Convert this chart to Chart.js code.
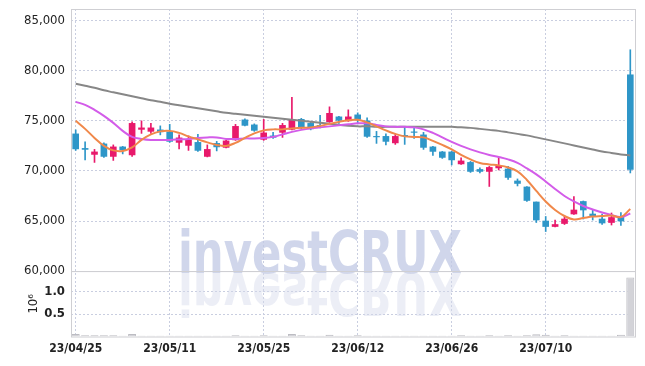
<!DOCTYPE html>
<html>
<head>
<meta charset="utf-8">
<script src="https://cdn.jsdelivr.net/npm/chart.js@4.4.0/dist/chart.umd.min.js"></script>
<style>
  html, body { margin: 0; padding: 0; background: #fff; }
</style>
</head>
<body>
<canvas id="chart" width="645" height="366"></canvas>
<script>
const dates = [
  "23/04/25","23/04/26","23/04/27","23/04/28","23/05/02","23/05/03","23/05/04","23/05/08","23/05/09","23/05/10",
  "23/05/11","23/05/12","23/05/15","23/05/16","23/05/17","23/05/18","23/05/19","23/05/22","23/05/23","23/05/24",
  "23/05/25","23/05/26","23/05/30","23/05/31","23/06/01","23/06/02","23/06/05","23/06/07","23/06/08","23/06/09",
  "23/06/12","23/06/13","23/06/14","23/06/15","23/06/16","23/06/19","23/06/20","23/06/21","23/06/22","23/06/23",
  "23/06/26","23/06/27","23/06/28","23/06/29","23/06/30","23/07/03","23/07/04","23/07/05","23/07/06","23/07/07",
  "23/07/10","23/07/11","23/07/12","23/07/13","23/07/14","23/07/17","23/07/18","23/07/19","23/07/20","23/07/21"
];

const opens = [
  73700,72250,71650,72700,71450,72400,71600,74150,73950,74100,
  73900,72850,72550,72850,71450,72750,72350,73100,75100,74600,
  73150,73500,73850,74150,75150,74750,74550,74900,75400,75000,
  75600,75000,73450,73450,72800,73550,73900,73600,72400,71900,
  71900,70700,70850,70150,69950,70300,70200,69000,68400,66900,
  65000,64450,64750,65700,66950,65700,65200,64850,65450,79600
];
const highs = [
  74100,72900,72150,72800,72600,72450,74900,75000,74750,74500,
  74650,73600,73500,73650,72600,72950,73050,74650,75200,74700,
  75150,73850,74750,77350,75250,74850,75550,76400,75450,76100,
  75800,75300,73950,73700,73650,74450,74450,73850,72450,71950,
  71950,71300,70950,70300,70450,71400,70450,69200,68450,66900,
  65450,65100,65450,67450,67000,66100,65700,65800,65850,82100
];
const lows = [
  72050,71100,70850,71350,71050,71700,71450,73750,73750,73600,
  72850,72200,72050,71950,71400,72000,72300,73050,74500,73950,
  73050,73250,73350,74100,74200,74100,74300,74850,74750,74950,
  74700,73350,72750,72600,72650,72650,73250,72150,71550,71250,
  70600,70650,69850,69800,68450,70100,69150,68500,66950,64850,
  63950,64400,64650,65650,65200,65100,64650,64600,64550,69800
];
const closes = [
  72200,72150,71900,71450,72400,72100,74750,74300,74300,73900,
  72950,73300,73100,72050,72150,72400,73000,74450,74550,74050,
  73800,73350,74550,75150,74350,74200,74500,75750,75050,75400,
  75150,73450,73400,72950,73450,73500,73850,72350,71950,71350,
  71100,71000,69950,69950,70350,70550,69350,68750,67050,65100,
  64450,64650,65200,66100,66100,65450,64800,65350,65000,70150
];

// moving average lines
const maShort = [
  75000,74200,73300,72500,72050,72000,72350,73100,73650,73950,
  74000,73800,73450,73150,72850,72600,72500,72800,73300,73750,
  74050,74150,74150,74250,74300,74350,74500,74700,74900,75050,
  75100,74850,74450,74050,73700,73450,73400,73350,73000,72600,
  72150,71600,71150,70800,70650,70550,70350,69950,69100,68000,
  66950,66100,65500,65150,65300,65450,65500,65550,65400,66200
];
const maMid = [
  76900,76600,76100,75500,74800,74000,73400,73200,73100,73100,
  73100,73150,73200,73300,73350,73350,73200,73200,73250,73250,
  73300,73400,73650,73900,74100,74250,74350,74450,74550,74650,
  74750,74750,74600,74450,74400,74400,74350,74150,73800,73350,
  72900,72500,72150,71850,71600,71400,71150,70800,70250,69650,
  68950,68200,67500,66950,66500,66150,65850,65600,65400,65750
];
const maLong = [
  78700,78500,78300,78050,77850,77650,77450,77250,77050,76900,
  76700,76550,76400,76250,76100,75950,75800,75700,75600,75500,
  75400,75300,75200,75100,75000,74900,74800,74700,74600,74500,
  74450,74450,74400,74400,74400,74400,74400,74400,74400,74400,
  74400,74350,74300,74200,74100,74000,73850,73700,73550,73350,
  73150,72950,72750,72550,72350,72150,71950,71800,71650,71550
];

// volume in millions
const volumes = [
  0.06,0.03,0.03,0.03,0.03,0.02,0.06,0.02,0.02,0.02,
  0.02,0.02,0.02,0.02,0.02,0.02,0.02,0.03,0.02,0.02,
  0.03,0.02,0.02,0.06,0.03,0.02,0.02,0.04,0.02,0.02,
  0.03,0.02,0.02,0.02,0.02,0.02,0.02,0.02,0.02,0.02,
  0.02,0.03,0.02,0.02,0.03,0.02,0.03,0.02,0.03,0.05,
  0.04,0.02,0.03,0.02,0.02,0.02,0.02,0.02,0.04,1.31
];

const priceTicks = [60000, 65000, 70000, 75000, 80000, 85000];
const volTicks = [0.5, 1.0];

const upColor = "#e8196b";
const downColor = "#2e96c8";
const candleColors = opens.map((o, i) => closes[i] >= o ? upColor : downColor);

const gridColor = "#c9cee0";
const frameColor = "#cfcfd3";
const fontFamily = "'DejaVu Sans Condensed', 'Liberation Sans', sans-serif";

// watermark with reflection, behind the marks
const watermark = {
  id: "watermark",
  beforeDatasetsDraw(chart) {
    const ctx = chart.ctx;
    const text = "investCRUX";
    const baseline = 273;
    ctx.save();
    ctx.font = "bold 58px 'DejaVu Sans Condensed', 'DejaVu Sans', sans-serif";
    ctx.textBaseline = "alphabetic";
    ctx.textAlign = "left";
    const w = ctx.measureText(text).width;
    const sx = 284 / w;
    ctx.translate(178, baseline);
    ctx.scale(sx, 1);
    ctx.fillStyle = "rgba(192,200,228,0.75)";
    ctx.fillText(text, 0, 0);
    ctx.scale(1, -1);
    ctx.fillStyle = "rgba(212,217,236,0.45)";
    ctx.fillText(text, 0, 0);
    ctx.restore();
  }
};

// frames round the two panels
const frames = {
  id: "frames",
  afterDraw(chart) {
    const ctx = chart.ctx;
    const { left, right } = chart.chartArea;
    const y = chart.scales.y, yv = chart.scales.yv;
    ctx.save();
    ctx.strokeStyle = frameColor;
    ctx.lineWidth = 1;
    ctx.strokeRect(left + 0.5, Math.round(y.top) + 0.5, right - left, y.bottom - y.top);
    ctx.strokeRect(left + 0.5, Math.round(yv.top) + 0.5, right - left, yv.bottom - yv.top);
    ctx.restore();
  }
};

const fitLeft = axis => {
  axis.width = 71;
  axis.paddingTop = 0;
  axis.paddingBottom = 0;
};

const ctx = document.getElementById("chart").getContext("2d");

new Chart(ctx, {
  type: "bar",
  data: {
    labels: dates,
    datasets: [
      {
        type: "line",
        label: "MA5",
        data: maShort,
        yAxisID: "y",
        borderColor: "#f0884a",
        borderWidth: 2,
        pointRadius: 0,
        tension: 0.4,
        order: 1
      },
      {
        type: "line",
        label: "MA20",
        data: maMid,
        yAxisID: "y",
        borderColor: "#d35ce9",
        borderWidth: 2,
        pointRadius: 0,
        tension: 0.4,
        order: 2
      },
      {
        type: "line",
        label: "MA120",
        data: maLong,
        yAxisID: "y",
        borderColor: "#878787",
        borderWidth: 2,
        pointRadius: 0,
        tension: 0.4,
        order: 3
      },
      {
        label: "body",
        data: opens.map((o, i) => [o, closes[i]]),
        yAxisID: "y",
        backgroundColor: candleColors,
        barThickness: 6,
        grouped: false,
        order: 4
      },
      {
        label: "wick",
        data: lows.map((l, i) => [l, highs[i]]),
        yAxisID: "y",
        backgroundColor: candleColors,
        barThickness: 1,
        grouped: false,
        order: 5
      },
      {
        label: "volume",
        data: volumes,
        yAxisID: "yv",
        backgroundColor: "#d3d3d8",
        borderColor: "#bcbcc2",
        borderWidth: { top: 1, left: 1, right: 1, bottom: 0 },
        barPercentage: 0.85,
        categoryPercentage: 1,
        grouped: false,
        order: 6
      }
    ]
  },
  options: {
    responsive: false,
    animation: false,
    layout: { padding: { top: 9, right: 10, left: 0, bottom: 5 } },
    plugins: {
      legend: { display: false },
      tooltip: { enabled: false }
    },
    scales: {
      x: {
        offset: true,
        grid: {
          offset: false,
          drawTicks: false,
          color: c => (c.index % 10 === 0 ? gridColor : "transparent")
        },
        border: { display: false, dash: [2, 2] },
        ticks: {
          autoSkip: false,
          maxRotation: 0,
          padding: 5,
          color: "#222",
          font: { family: fontFamily, size: 12, weight: "bold" },
          callback: (v, i) => (i % 10 === 0 ? dates[i] : "")
        }
      },
      y: {
        position: "left",
        stack: "panels",
        stackWeight: 4,
        weight: 2,
        min: 60000,
        max: 86170,
        afterBuildTicks: axis => {
          axis.ticks = priceTicks.map(v => ({ value: v }));
        },
        afterFit: fitLeft,
        grid: { color: gridColor, drawTicks: false },
        border: { display: false, dash: [2, 2] },
        ticks: {
          padding: 6,
          color: "#222",
          font: { family: fontFamily, size: 13 },
          callback: v => v.toLocaleString("en-US")
        }
      },
      yv: {
        position: "left",
        stack: "panels",
        stackWeight: 1,
        weight: 1,
        min: 0,
        max: 1.45,
        afterBuildTicks: axis => {
          axis.ticks = volTicks.map(v => ({ value: v }));
        },
        afterFit: fitLeft,
        grid: { color: gridColor, drawTicks: false },
        border: { display: false, dash: [2, 2] },
        title: {
          display: true,
          text: "10\u2076",
          color: "#222",
          padding: { top: 26, bottom: 0 },
          font: { family: fontFamily, size: 13 }
        },
        ticks: {
          padding: 6,
          color: "#222",
          font: { family: fontFamily, size: 13, weight: "bold" },
          callback: v => v.toFixed(1)
        }
      }
    }
  },
  plugins: [watermark, frames]
});
</script>
</body>
</html>
